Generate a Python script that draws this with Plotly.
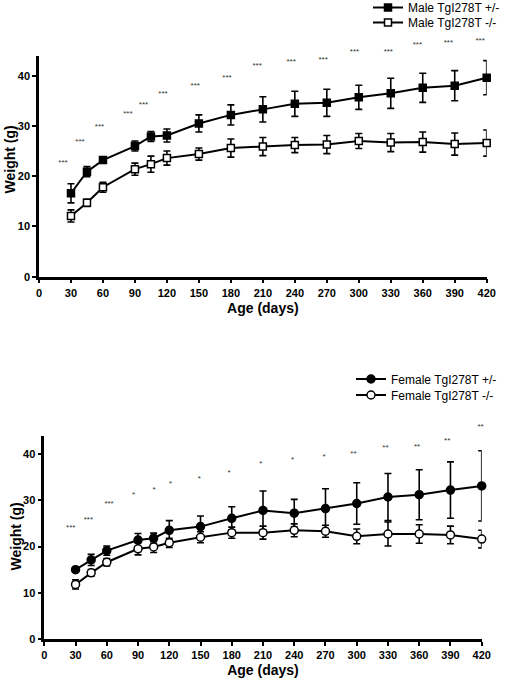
import plotly.graph_objects as go

# ---------------- data ----------------
age = [30, 45, 60, 90, 105, 120, 150, 180, 210, 240, 270, 300, 330, 360, 390, 420]

male_het = [16.6, 20.9, 23.2, 26.0, 27.9, 28.1, 30.5, 32.2, 33.3, 34.4, 34.6, 35.7, 36.5, 37.6, 38.0, 39.6]
male_het_err = [1.9, 1.0, 0.5, 1.0, 1.0, 1.3, 1.7, 2.0, 2.5, 2.5, 2.7, 2.4, 3.0, 2.9, 3.0, 3.4]
male_ko = [12.1, 14.7, 17.8, 21.4, 22.4, 23.6, 24.4, 25.6, 25.9, 26.2, 26.3, 27.0, 26.7, 26.8, 26.4, 26.6]
male_ko_err = [1.2, 0.7, 1.0, 1.2, 1.6, 1.4, 1.2, 1.8, 1.8, 1.5, 1.8, 1.5, 1.8, 2.0, 2.2, 2.6]

female_het = [15.0, 17.1, 19.1, 21.4, 21.8, 23.5, 24.3, 26.1, 27.8, 27.2, 28.2, 29.3, 30.7, 31.2, 32.2, 33.1]
female_het_err = [0.3, 1.2, 1.0, 1.4, 1.1, 2.1, 2.3, 2.5, 4.2, 3.0, 4.3, 4.5, 5.1, 5.4, 6.1, 7.6]
female_ko = [11.8, 14.3, 16.6, 19.5, 19.9, 20.8, 22.0, 23.0, 23.0, 23.5, 23.3, 22.2, 22.7, 22.7, 22.5, 21.6]
female_ko_err = [1.0, 0.7, 0.8, 1.3, 1.2, 1.0, 1.2, 1.2, 1.4, 1.4, 1.3, 1.6, 2.6, 2.0, 1.9, 1.9]

male_sig = ["***"] * 16
male_sig_x = [22.5, 38.5, 56.7, 83.4, 98, 116.3, 146.6, 176.4, 204.6, 236.5, 266.6, 296, 327.7, 355, 384, 413.8]
male_sig_y = [22.7, 26.8, 29.8, 32.3, 34.2, 36.3, 38.0, 39.6, 41.9, 42.7, 43.1, 44.7, 44.8, 46.2, 46.6, 46.9]

female_sig = ["***", "***", "***", "*", "*", "*", "*", "*", "*", "*", "*", "**", "**", "**", "**", "**"]
female_sig_x = [25.4, 42.3, 62.2, 85.6, 105.5, 121.2, 148.8, 177.3, 208, 238.5, 268.6, 296.8, 327.6, 358, 386.9, 418.9]
female_sig_y = [23.9, 25.7, 29.1, 31.1, 32.3, 33.6, 34.6, 35.9, 37.8, 38.7, 39.3, 40.0, 41.3, 41.6, 42.8, 45.9]

x_ticks = list(range(0, 421, 30))
y_ticks = [0, 10, 20, 30, 40]

# ---------------- figure ----------------
FONT = "Arial, Liberation Sans, sans-serif"
W, H = 510, 681
Y_MAX = 44


def px_x(p):
    return p / W


def px_y(p):
    return 1 - p / H


# panel geometry (pixels)
TOP_X0, TOP_X1, TOP_Y0, TOP_Y1 = 39, 486.7, 276.7, 55.6
BOT_X0, BOT_X1, BOT_Y0, BOT_Y1 = 44.3, 481.7, 639, 435.5
TOP_SIG_TOP, BOT_SIG_TOP = 25, 415
top_scale = (TOP_Y0 - TOP_Y1) / Y_MAX
bot_scale = (BOT_Y0 - BOT_Y1) / Y_MAX

fig = go.Figure()


def series(x, y, err, name, filled, symbol, xa, ya, legend):
    fig.add_trace(go.Scatter(
        x=x, y=y, name=name, mode="lines+markers",
        xaxis=xa, yaxis=ya, legend=legend,
        line=dict(color="black", width=2),
        marker=dict(symbol=symbol, size=7 if symbol == "square" else 8,
                    color="black" if filled else "white",
                    line=dict(color="black", width=1.5)),
        error_y=dict(type="data", array=err, visible=True,
                     color="black", thickness=1.6, width=3.5),
        cliponaxis=False,
    ))


def sig(x, y, t, xa, ya):
    fig.add_trace(go.Scatter(
        x=x, y=y, text=t, mode="text", xaxis=xa, yaxis=ya,
        textfont=dict(family=FONT, size=8, color="#333333"),
        textposition="middle center", showlegend=False,
        cliponaxis=False, hoverinfo="skip",
    ))


series(age, male_het, male_het_err, "Male TgI278T +/-", True, "square", "x", "y", "legend")
series(age, male_ko, male_ko_err, "Male TgI278T -/-", False, "square", "x", "y", "legend3")
sig(male_sig_x, male_sig_y, male_sig, "x", "y3")

series(age, female_het, female_het_err, "Female TgI278T +/-", True, "circle", "x2", "y2", "legend2")
series(age, female_ko, female_ko_err, "Female TgI278T -/-", False, "circle", "x2", "y2", "legend4")
sig(female_sig_x, female_sig_y, female_sig, "x2", "y4")

TITLE_FONT = dict(family=FONT, size=14, color="black", weight="bold")

axis_common = dict(
    showgrid=False, zeroline=False, showline=True, linecolor="black", linewidth=2.5,
    ticks="outside", ticklen=4, tickwidth=2, tickcolor="black", automargin=False,
    tickfont=dict(family=FONT, size=11, color="black", weight="bold"),
    title_font=TITLE_FONT,
)

hidden = dict(visible=False, showgrid=False, zeroline=False, automargin=False)

legend_common = dict(xanchor="left", yanchor="middle",
                     font=dict(family=FONT, size=12, color="black"),
                     bgcolor="rgba(0,0,0,0)", borderwidth=0)

fig.update_layout(
    width=W, height=H,
    margin=dict(l=0, r=0, t=0, b=0, autoexpand=False),
    paper_bgcolor="white", plot_bgcolor="rgba(0,0,0,0)",
    font=dict(family=FONT, color="black"),
    xaxis=dict(domain=[px_x(TOP_X0), px_x(TOP_X1)], range=[0, 420], anchor="y",
               tickvals=x_ticks, title=dict(text="Age (days)", standoff=6), **axis_common),
    yaxis=dict(domain=[px_y(TOP_Y0), px_y(TOP_Y1)], range=[0, Y_MAX], anchor="x",
               tickvals=y_ticks, **axis_common),
    yaxis3=dict(domain=[px_y(TOP_Y0), px_y(TOP_SIG_TOP)],
                range=[0, (TOP_Y0 - TOP_SIG_TOP) / top_scale], anchor="x", **hidden),
    xaxis2=dict(domain=[px_x(BOT_X0), px_x(BOT_X1)], range=[0, 420], anchor="y2",
                tickvals=x_ticks, title=dict(text="Age (days)", standoff=6), **axis_common),
    yaxis2=dict(domain=[px_y(BOT_Y0), px_y(BOT_Y1)], range=[0, Y_MAX], anchor="x2",
                tickvals=y_ticks, **axis_common),
    yaxis4=dict(domain=[px_y(BOT_Y0), px_y(BOT_SIG_TOP)],
                range=[0, (BOT_Y0 - BOT_SIG_TOP) / bot_scale], anchor="x2", **hidden),
    legend=dict(x=px_x(368), y=px_y(7.5), **legend_common),
    legend3=dict(x=px_x(368), y=px_y(22.5), **legend_common),
    legend2=dict(x=px_x(351), y=px_y(379), **legend_common),
    legend4=dict(x=px_x(351), y=px_y(395), **legend_common),
    showlegend=True,
    annotations=[
        dict(text="Weight (g)", textangle=-90, xref="paper", yref="paper",
             x=px_x(9.5), y=px_y(160), xanchor="center", yanchor="middle",
             showarrow=False, font=TITLE_FONT),
        dict(text="Weight (g)", textangle=-90, xref="paper", yref="paper",
             x=px_x(15), y=px_y(536.5), xanchor="center", yanchor="middle",
             showarrow=False, font=TITLE_FONT),
    ],
)

fig.write_html("out.html", config={"displayModeBar": False},
               post_script="document.body.style.margin='0';document.body.style.overflow='hidden';")
